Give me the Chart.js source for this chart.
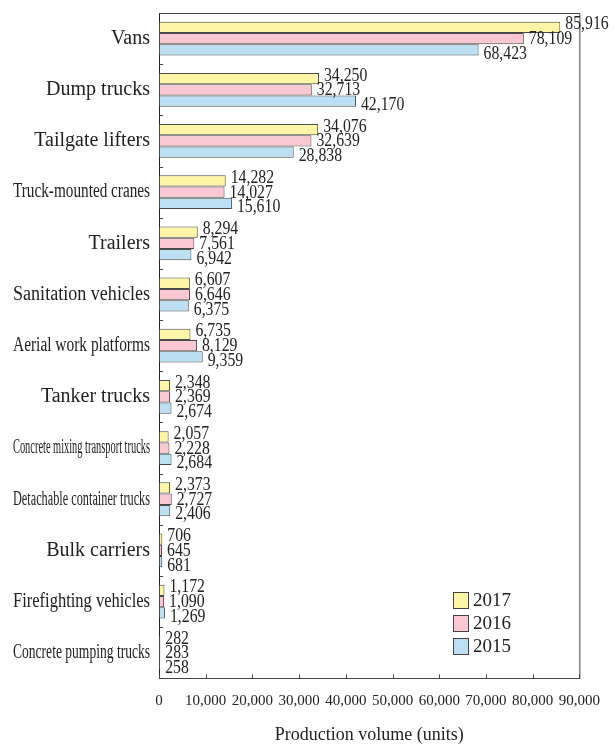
<!DOCTYPE html>
<html>
<head>
<meta charset="utf-8">
<script src="https://cdn.jsdelivr.net/npm/chart.js"></script>
<style>
html, body { margin: 0; padding: 0; background: #fff; }
</style>
</head>
<body>
<canvas id="barChart" width="614" height="746"></canvas>
<script>
// data
var categories = ['Vans', 'Dump trucks', 'Tailgate lifters', 'Truck-mounted cranes', 'Trailers',
    'Sanitation vehicles', 'Aerial work platforms', 'Tanker trucks', 'Concrete mixing transport trucks',
    'Detachable container trucks', 'Bulk carriers', 'Firefighting vehicles', 'Concrete pumping trucks'];
var years = ['2017', '2016', '2015'];
var v2017 = [85916, 34250, 34076, 14282, 8294, 6607, 6735, 2348, 2057, 2373, 706, 1172, 282];
var v2016 = [78109, 32713, 32639, 14027, 7561, 6646, 8129, 2369, 2228, 2727, 645, 1090, 283];
var v2015 = [68423, 42170, 28838, 15610, 6942, 6375, 9359, 2674, 2684, 2406, 681, 1269, 258];
var xTicks = [0, 10000, 20000, 30000, 40000, 50000, 60000, 70000, 80000, 90000];
var colors = ['#fff5a6', '#f9c8d3', '#bcdff4'];

var serif = "'Liberation Serif', 'DejaVu Serif', serif";
var textColor = '#222';

function fmt(v) {
    return v.toLocaleString('en-US');
}

// labels, inner ticks, frame and legend drawn by hand
var decor = {
    id: 'decor',
    afterDraw: function(chart) {
        var ctx = chart.ctx;
        var area = chart.chartArea;
        var xs = chart.scales.x;
        var ys = chart.scales.y;

        ctx.save();
        // frame top + right
        ctx.strokeStyle = '#444';
        ctx.lineWidth = 1;
        ctx.beginPath();
        ctx.moveTo(area.left, area.top + 0.5);
        ctx.lineTo(area.right + 0.5, area.top + 0.5);
        ctx.lineTo(area.right + 0.5, area.bottom);
        ctx.stroke();

        // inward ticks
        ctx.beginPath();
        xTicks.forEach(function(v) {
            var x = Math.round(xs.getPixelForValue(v)) + 0.5;
            ctx.moveTo(x, area.bottom);
            ctx.lineTo(x, area.bottom - 4);
        });
        for (var i = 1; i < categories.length; i++) {
            var y = Math.round((ys.getPixelForValue(i - 1) + ys.getPixelForValue(i)) / 2) + 0.5;
            ctx.moveTo(area.left, y);
            ctx.lineTo(area.left + 4, y);
        }
        ctx.stroke();

        // category labels
        ctx.fillStyle = textColor;
        ctx.font = '20px ' + serif;
        ctx.textAlign = 'right';
        ctx.textBaseline = 'middle';
        categories.forEach(function(c, i) {
            ctx.fillText(c, area.left - 9, ys.getPixelForValue(i), 137);
        });

        // value labels
        ctx.font = '19px ' + serif;
        ctx.textAlign = 'left';
        chart.data.datasets.forEach(function(ds, d) {
            var meta = chart.getDatasetMeta(d);
            meta.data.forEach(function(bar, i) {
                ctx.save();
                ctx.translate(bar.x + 5, bar.y + (d - 1) * 3.5 + 0.5);
                ctx.scale(0.83, 1);
                ctx.fillText(fmt(ds.data[i]), 0, 0);
                ctx.restore();
            });
        });

        // legend
        ctx.font = '19px ' + serif;
        chart.data.datasets.forEach(function(ds, d) {
            var ly = 600 + d * 23;
            ctx.fillStyle = ds.backgroundColor;
            ctx.fillRect(453, ly - 8, 15, 16);
            ctx.strokeStyle = '#444';
            ctx.strokeRect(453.5, ly - 7.5, 15, 16);
            ctx.fillStyle = textColor;
            ctx.fillText(ds.label, 473, ly + 1);
        });
        ctx.restore();
    }
};

var barChart = new Chart(document.getElementById('barChart'), {
    type: 'bar',
    data: {
        labels: categories,
        datasets: [
            { label: years[0], data: v2017, backgroundColor: colors[0] },
            { label: years[1], data: v2016, backgroundColor: colors[1] },
            { label: years[2], data: v2015, backgroundColor: colors[2] }
        ]
    },
    plugins: [decor],
    options: {
        indexAxis: 'y',
        responsive: false,
        animation: false,
        devicePixelRatio: 1,
        layout: { padding: { left: 159, top: 13, right: 33, bottom: 0 } },
        datasets: {
            bar: {
                borderColor: '#4a4a4a',
                borderWidth: 1,
                borderSkipped: false,
                barPercentage: 1,
                categoryPercentage: 0.66
            }
        },
        plugins: {
            legend: { display: false },
            tooltip: { enabled: false }
        },
        scales: {
            x: {
                type: 'linear',
                min: 0,
                max: 90000,
                afterBuildTicks: function(axis) {
                    axis.ticks = xTicks.map(function(v) { return { value: v }; });
                },
                ticks: {
                    callback: function(v) { return fmt(v); },
                    font: { family: serif, size: 15 },
                    color: textColor,
                    padding: 14,
                    maxRotation: 0,
                    autoSkip: false
                },
                grid: { display: false, drawTicks: false },
                border: { display: true, color: '#444', width: 1 },
                title: {
                    display: true,
                    text: 'Production volume (units)',
                    font: { family: serif, size: 18 },
                    color: textColor,
                    padding: { top: 0, bottom: 0 }
                }
            },
            y: {
                ticks: { display: false },
                grid: { display: false, drawTicks: false },
                border: { display: true, color: '#222', width: 1 }
            }
        }
    }
});
</script>
</body>
</html>
